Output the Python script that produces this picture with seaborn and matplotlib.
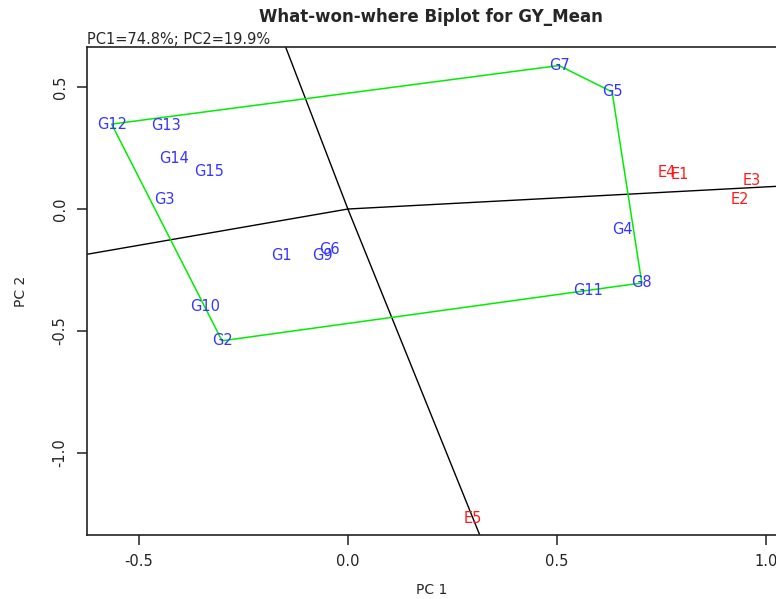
import numpy as np
import pandas as pd
import matplotlib.pyplot as plt
import seaborn as sns

# Punteggi dei genotipi sulle prime due componenti
genotypes = ["G1", "G2", "G3", "G4", "G5", "G6", "G7", "G8",
             "G9", "G10", "G11", "G12", "G13", "G14", "G15"]
gen_pc1 = [-0.160, -0.301, -0.438, 0.656, 0.632, -0.045, 0.505, 0.703,
           -0.060, -0.342, 0.574, -0.565, -0.435, -0.416, -0.333]
gen_pc2 = [-0.189, -0.540, 0.041, -0.082, 0.480, -0.164, 0.588, -0.303,
           -0.189, -0.398, -0.332, 0.348, 0.344, 0.209, 0.152]

# Punteggi degli ambienti
envs = ["E1", "E2", "E3", "E4", "E5"]
env_pc1 = [0.793, 0.938, 0.967, 0.762, 0.299]
env_pc2 = [0.142, 0.037, 0.115, 0.150, -1.270]

# Vertici del poligono e lati da cui partono i raggi
hull = ["G7", "G5", "G8", "G2", "G12"]
ray_sides = [("G12", "G7"), ("G5", "G8"), ("G8", "G2"), ("G2", "G12")]

title = "What-won-where Biplot for GY_Mean"
subtitle = "PC1=74.8%; PC2=19.9%"

gen = pd.DataFrame({"lab": genotypes, "PC1": gen_pc1, "PC2": gen_pc2}).set_index("lab")
env = pd.DataFrame({"lab": envs, "PC1": env_pc1, "PC2": env_pc2})

# poligono chiuso
poly = gen.loc[hull + [hull[0]]].reset_index()

# raggi perpendicolari ai lati, dall'origine
rays = []
for i, (a, b) in enumerate(ray_sides):
    p = gen.loc[a, ["PC1", "PC2"]].to_numpy(float)
    q = gen.loc[b, ["PC1", "PC2"]].to_numpy(float)
    d = q - p
    foot = p - (p @ d) / (d @ d) * d
    end = foot / np.linalg.norm(foot) * 3
    rays.append({"ray": i, "PC1": 0.0, "PC2": 0.0})
    rays.append({"ray": i, "PC1": end[0], "PC2": end[1]})
rays = pd.DataFrame(rays)

sns.set_style("ticks")
plt.rcParams["font.family"] = ["DejaVu Sans"]

fig = plt.figure(figsize=(7.76, 5.99), dpi=100)
ax = fig.add_axes([87 / 776, 1 - 535 / 599, 1 - 87 / 776, (535 - 47) / 599])

sns.lineplot(data=rays, x="PC1", y="PC2", units="ray", estimator=None, sort=False,
             color="black", linewidth=1.0, ax=ax)
sns.lineplot(data=poly, x="PC1", y="PC2", estimator=None, sort=False,
             color="#00ee00", linewidth=1.1, ax=ax)

for lab, r in gen.iterrows():
    ax.text(r["PC1"], r["PC2"], lab, color="#3535ff", fontsize=10.5,
            ha="center", va="center")
for _, r in env.iterrows():
    ax.text(r["PC1"], r["PC2"], r["lab"], color="#ff1a1a", fontsize=10.5,
            ha="center", va="center")

ax.set_xlim(-0.624, 1.024)
ax.set_ylim(-1.336, 0.664)
ax.set_xticks([-0.5, 0.0, 0.5, 1.0])
ax.set_yticks([-1.0, -0.5, 0.0, 0.5])
ax.set_xticklabels(["-0.5", "0.0", "0.5", "1.0"])
ax.set_yticklabels(["-1.0", "-0.5", "0.0", "0.5"], rotation=90, va="center")
ax.tick_params(length=7, width=1.1, labelsize=10.5, colors="#222222", pad=7)
for s in ["left", "bottom", "top"]:
    ax.spines[s].set_linewidth(1.2)
    ax.spines[s].set_color("#222222")
ax.spines["right"].set_visible(False)

ax.set_xlabel("PC 1", fontsize=10, labelpad=10)
ax.set_ylabel("PC 2", fontsize=10, labelpad=18)
ax.set_title(subtitle, loc="left", fontsize=10.5, pad=2)
fig.text(431 / 776, 1 - 17 / 599, title, ha="center", va="center",
         fontsize=12, fontweight="bold")

plt.savefig("out.png", dpi=100)
